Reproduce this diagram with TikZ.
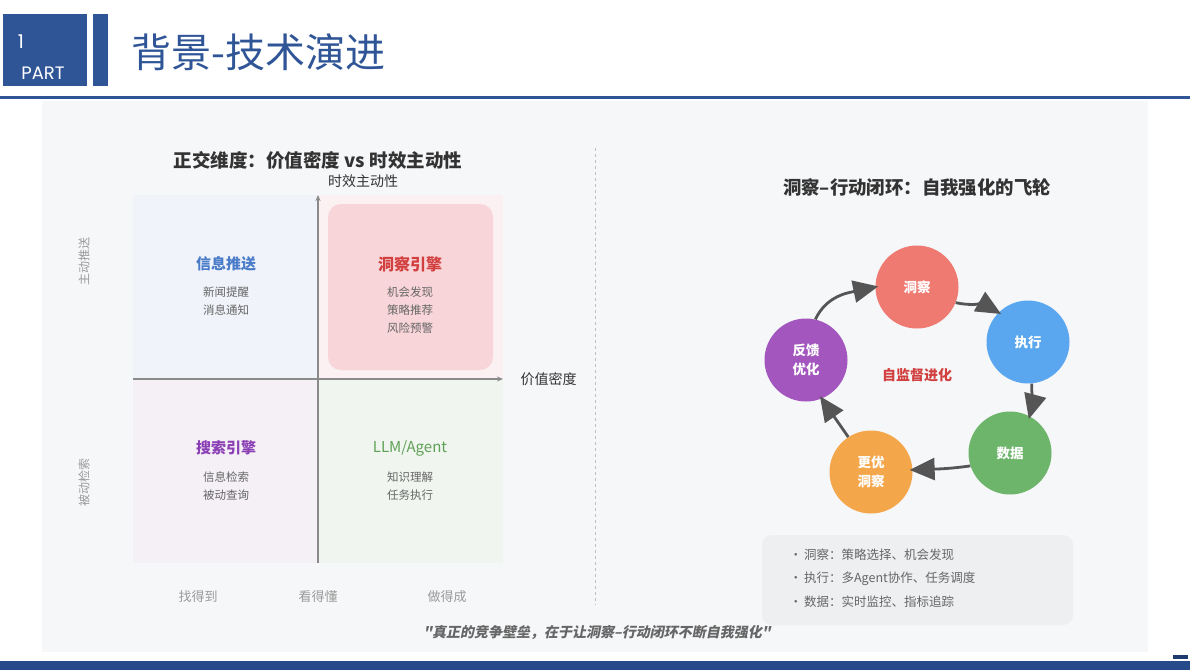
\documentclass[tikz,border=0pt]{standalone}
\usepackage{fontspec}
\setmainfont{Noto Sans CJK SC}
\newfontfamily\slantcjk[FakeSlant=0.2]{Noto Sans CJK SC}
\newfontfamily\partfont{Poppins}
\usepackage{tikz}
\usetikzlibrary{arrows.meta,positioning}
\definecolor{navy}{HTML}{2F5597}
\definecolor{navydark}{HTML}{264A8A}
\definecolor{panel}{HTML}{F6F7F9}
\definecolor{ink}{HTML}{333333}
\definecolor{muted}{HTML}{666666}
\definecolor{faint}{HTML}{9A9A9A}
\definecolor{axisgray}{HTML}{8A8A8A}
\definecolor{qblue}{HTML}{F0F3FA}
\definecolor{qpink}{HTML}{FBF0F2}
\definecolor{qpurple}{HTML}{F4F0F6}
\definecolor{qgreen}{HTML}{F0F5F0}
\definecolor{hotpink}{HTML}{F8D5D9}
\definecolor{txtblue}{HTML}{4A7CC9}
\definecolor{txtred}{HTML}{D23F3F}
\definecolor{txtpurple}{HTML}{8B3FB5}
\definecolor{txtgreen}{HTML}{5EA055}
\definecolor{cinsight}{HTML}{EF7A72}
\definecolor{cexec}{HTML}{5AA6EF}
\definecolor{cdata}{HTML}{6DB56B}
\definecolor{cbetter}{HTML}{F4A64A}
\definecolor{cfeed}{HTML}{A256BE}
\definecolor{arrowgray}{HTML}{555555}
\definecolor{notebox}{HTML}{EEEFF1}
\newcommand{\fsz}[1]{\fontsize{#1pt}{\dimexpr #1pt*5/4\relax}\selectfont}

\begin{document}
\begin{tikzpicture}[x=1pt,y=-1pt,
  qtitle/.style={font=\fsz{15}\bfseries,anchor=center},
  qitem/.style={font=\fontsize{11.5pt}{18pt}\selectfont,text=muted,align=center,anchor=center},
  axislbl/.style={font=\fsz{14},text=ink},
  scalelbl/.style={font=\fsz{13},text=faint},
  sidelbl/.style={font=\fsz{12},text=faint,rotate=90},
  wheel/.style={circle,minimum size=83pt,inner sep=0pt,text=white,
    font=\fontsize{13.5pt}{19pt}\selectfont\bfseries,align=center},
  axis/.style={axisgray,line width=1.4pt,-{Stealth[length=6pt,width=5pt]}},
  flyedge/.style={arrowgray,line width=2.8pt,
    -{Triangle[length=25pt,width=22pt]},shorten >=-3pt}]
  \useasboundingbox (0,0) rectangle (1190,670);
  % header
  \fill[navy] (3,14) rectangle (87,86);
  \fill[navy] (93,14) rectangle (108,86);
  \node[text=white,font=\partfont\fsz{19}] (partno) at (21,42) {1};
  \node[text=white,font=\partfont\fsz{18}] (partlbl) at (43,73) {PART};
  \node[text=navy,font=\fsz{40},anchor=west] (head) at (128,52) {背景-技术演进};
  \draw[navy,line width=2.5pt] (0,97.5) -- (1190,97.5);
  \fill[panel] (42,101) rectangle (1148,652);
  \fill[navydark] (0,661) rectangle (1190,670);
  \fill[navydark!80!black] (1173,655) rectangle (1188,659);
  % left: quadrant chart
  \node[font=\fsz{18.5}\bfseries,text=ink] (ltitle) at (318,160) {正交维度：价值密度 vs 时效主动性};
  \fill[qblue] (133,195) rectangle (318,379);
  \fill[qpink] (318,195) rectangle (503,379);
  \fill[qpurple] (133,379) rectangle (318,563);
  \fill[qgreen] (318,379) rectangle (503,563);
  \fill[hotpink,rounded corners=13pt] (328,204) rectangle (493,370);
  \coordinate (yfoot) at (318,563);
  \coordinate (ytip) at (318,195);
  \coordinate (xfoot) at (133,379);
  \coordinate (xtip) at (503,379);
  \draw[axis] (yfoot) -- (ytip);
  \draw[axis] (xfoot) -- (xtip);
  \node[axislbl] (ylbl) at (363,181) {时效主动性};
  \node[axislbl,right=14pt of xtip] (xlbl) {价值密度};
  \node[qtitle,text=txtblue] (push) at (226,264) {信息推送};
  \node[qitem] (pushitems) at (226,301) {新闻提醒\\消息通知};
  \node[qtitle,text=txtred,font=\fsz{16}\bfseries] (insight) at (410,264) {洞察引擎};
  \node[qitem] (insightitems) at (410,310) {机会发现\\策略推荐\\风险预警};
  \node[qtitle,text=txtpurple] (search) at (226,448) {搜索引擎};
  \node[qitem] (searchitems) at (226,486) {信息检索\\被动查询};
  \node[qtitle,text=txtgreen,font=\fsz{15}] (llm) at (410,448) {LLM/Agent};
  \node[qitem] (llmitems) at (410,486) {知识理解\\任务执行};
  \node[sidelbl] (active) at (84,261) {主动推送};
  \node[sidelbl] (passive) at (84,482) {被动检索};
  \node[scalelbl] (find) at (198,597) {找得到};
  \node[scalelbl] (read) at (318,597) {看得懂};
  \node[scalelbl] (done) at (447,597) {做得成};
  % divider
  \draw[black!25,dashed,line width=.8pt] (595,148) -- (595,605);
  % right: flywheel
  \node[font=\fsz{18.4}\bfseries,text=ink] (rtitle) at (917,188) {洞察–行动闭环：自我强化的飞轮};
  \node[wheel,fill=cinsight] (dc) at (917,287) {洞察};
  \node[wheel,fill=cexec] (zx) at (1028,342) {执行};
  \node[wheel,fill=cdata] (sj) at (1010,453) {数据};
  \node[wheel,fill=cbetter] (gy) at (871,472) {更优\\洞察};
  \node[wheel,fill=cfeed] (fb) at (806,360) {反馈\\优化};
  \node[text=txtred,font=\fsz{14}\bfseries] (selfsup) at (917,375) {自监督进化};
  \draw[flyedge] (fb.77) to[out=65,in=192] (dc.west);
  \draw[flyedge] (dc.-22) to[out=-12,in=150] (zx.135);
  \draw[flyedge] (zx.-85) to[out=-90,in=75] (sj.62);
  \draw[flyedge] (sj.198) to[out=188,in=2] (gy.3);
  \draw[flyedge] (gy.123) -- (fb.-68);
  % notes
  \fill[notebox,rounded corners=10pt] (762,535) rectangle (1073,625);
  \node[anchor=west,font=\fsz{12.5},text=muted] (note1) at (786,555) {•\,洞察：策略选择、机会发现};
  \node[anchor=west,font=\fsz{12.5},text=muted] (note2) at (786,579) {•\,执行：多Agent协作、任务调度};
  \node[anchor=west,font=\fsz{12.5},text=muted] (note3) at (786,602) {•\,数据：实时监控、指标追踪};
  % quote
  \node[font=\slantcjk\fsz{14}\bfseries,text=muted] (quote) at (597,633) {"真正的竞争壁垒，在于让洞察–行动闭环不断自我强化"};
\end{tikzpicture}
\end{document}
